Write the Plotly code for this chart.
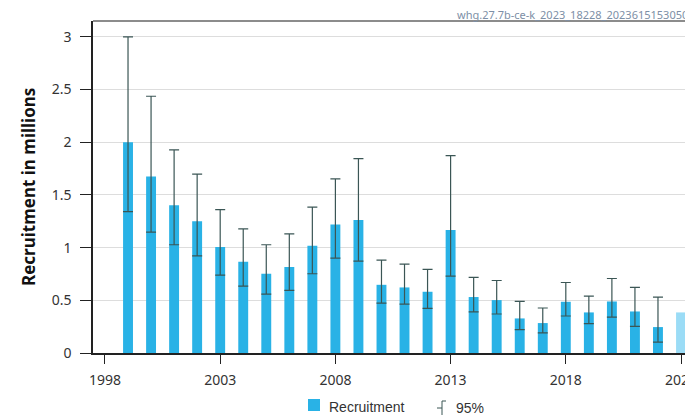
import plotly.graph_objects as go

# recruitment estimates (millions) and 95% interval
years = list(range(1999, 2023))
recruit = [2.0, 1.674, 1.403, 1.251, 1.005, 0.865, 0.752, 0.815, 1.017, 1.219, 1.261, 0.647,
           0.622, 0.581, 1.166, 0.531, 0.502, 0.328, 0.284, 0.486, 0.385, 0.489, 0.394, 0.246]
upper = [3.0, 2.436, 1.927, 1.697, 1.36, 1.178, 1.027, 1.131, 1.384, 1.652, 1.845, 0.881,
         0.844, 0.793, 1.873, 0.717, 0.688, 0.489, 0.427, 0.669, 0.54, 0.707, 0.622, 0.531]
lower = [1.342, 1.147, 1.027, 0.922, 0.739, 0.635, 0.559, 0.594, 0.752, 0.9, 0.872, 0.474,
         0.464, 0.423, 0.730, 0.391, 0.37, 0.221, 0.19, 0.351, 0.278, 0.341, 0.252, 0.104]
# assumed value for the last year
year_last = [2023]
recruit_last = [0.385]

tick_years = [1998, 2003, 2008, 2013, 2018, 2023]

err_plus = [u - r for u, r in zip(upper, recruit)]
err_minus = [r - l for r, l in zip(recruit, lower)]

# page has an 8px body margin, so the figure is drawn 8px smaller
W, H = 685, 411
L, T, B = 85, 13, 66
PW, PH = W - L, H - T - B

def px_x(x):  # window pixel -> paper x
    return (x - 8 - L) / PW

def px_y(y):  # window pixel -> paper y
    return (H - B - (y - 8)) / PH

font = "Noto Sans"
err_col = "#3b5655"
fig = go.Figure()

fig.add_trace(go.Bar(
    x=years, y=recruit, width=0.43, name="Recruitment",
    marker=dict(color="#29b2e6", line=dict(width=0)),
    error_y=dict(type="data", symmetric=False, array=err_plus, arrayminus=err_minus,
                 color=err_col, thickness=1.2, width=5),
))
fig.add_trace(go.Bar(
    x=year_last, y=recruit_last, width=0.43,
    marker=dict(color="#9bdcf6", line=dict(width=0)),
))

fig.update_layout(
    width=W, height=H,
    margin=dict(l=L, r=0, t=T, b=B, autoexpand=False),
    plot_bgcolor="white", paper_bgcolor="white",
    font=dict(family=font, size=14, color="#333333"),
    showlegend=False,
    xaxis=dict(range=[1997.48, 2023.52], tickvals=tick_years, ticks="outside", ticklen=9,
               tickcolor="#222222", showline=True, linecolor="#222222", linewidth=1.5,
               showgrid=False, zeroline=False, ticklabelstandoff=4, automargin=False,
               ticklabeloverflow="allow"),
    yaxis=dict(range=[0, 3.15], tickvals=[0, 0.5, 1, 1.5, 2, 2.5, 3],
               ticktext=["0", "0.5", "1", "1.5", "2", "2.5", "3"],
               ticks="outside", ticklen=11, tickcolor="#222222",
               showline=True, linecolor="#222222", linewidth=1.5,
               showgrid=True, gridcolor="#dddddd", gridwidth=1.2, zeroline=False,
               ticklabelstandoff=6, automargin=False),
)

# top frame line
fig.add_shape(type="line", xref="paper", yref="paper", x0=0, x1=1, y0=1, y1=1,
              line=dict(color="#666666", width=1.5))

fig.add_annotation(text="<b>Recruitment in millions</b>", xref="paper", yref="paper",
                   x=px_x(28), y=0.5, xanchor="center", yanchor="middle",
                   textangle=-90, showarrow=False, font=dict(size=17, color="#111111"))
fig.add_annotation(text="whg.27.7b-ce-k_2023_18228_2023615153050", xref="paper", yref="paper",
                   x=px_x(455), y=px_y(15), xanchor="left", yanchor="middle",
                   showarrow=False, font=dict(size=11, color="#7d8fa6"))

# legend drawn by hand
fig.add_shape(type="rect", xref="paper", yref="paper", x0=px_x(308), x1=px_x(320),
              y0=px_y(411), y1=px_y(399), fillcolor="#29b2e6", line=dict(width=0))
fig.add_annotation(text="Recruitment", xref="paper", yref="paper", x=px_x(327), y=px_y(407),
                   xanchor="left", yanchor="middle", showarrow=False,
                   font=dict(family="Liberation Sans", size=14, color="#333333"))
fig.add_shape(type="line", xref="paper", yref="paper", x0=px_x(442), x1=px_x(442),
              y0=px_y(401), y1=px_y(415), line=dict(color=err_col, width=1))
fig.add_shape(type="line", xref="paper", yref="paper", x0=px_x(442), x1=px_x(446),
              y0=px_y(401), y1=px_y(401), line=dict(color=err_col, width=1))
fig.add_shape(type="line", xref="paper", yref="paper", x0=px_x(437), x1=px_x(442),
              y0=px_y(408), y1=px_y(408), line=dict(color=err_col, width=1))
fig.add_annotation(text="95%", xref="paper", yref="paper", x=px_x(454), y=px_y(408),
                   xanchor="left", yanchor="middle", showarrow=False,
                   font=dict(family="Liberation Sans", size=14, color="#333333"))

fig.write_html("out.html")
